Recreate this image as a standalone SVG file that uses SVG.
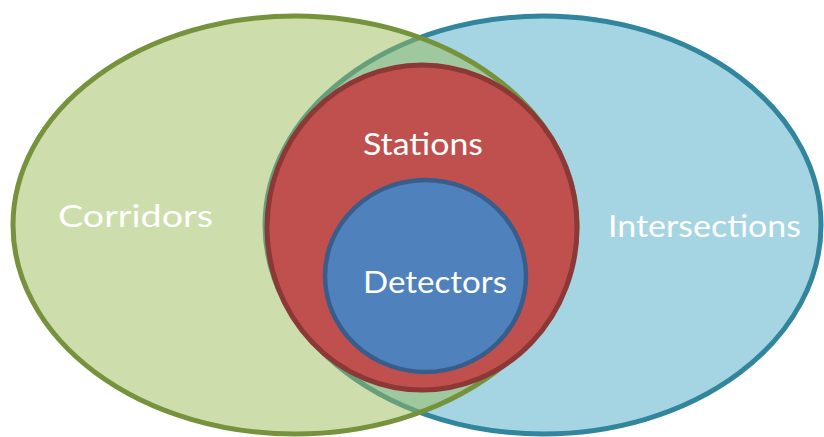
<svg xmlns="http://www.w3.org/2000/svg" width="824" height="437" viewBox="0 0 824 437">
<style>
.lbl{font-family:Lato,"Open Sans","Liberation Sans",sans-serif;font-size:31px;fill:#ffffff}
</style>
<rect width="824" height="437" fill="#ffffff"/>
<g id="intersections">
<ellipse cx="543" cy="225" rx="278" ry="209" fill="#4BACC6" fill-opacity="0.5" stroke="#31859C" stroke-width="5"/>
<text class="lbl" x="608" y="237" textLength="193" lengthAdjust="spacingAndGlyphs">Intersections</text>
</g>
<g id="corridors">
<ellipse cx="295" cy="225" rx="282" ry="209" fill="#9BBB59" fill-opacity="0.5" stroke="#76923C" stroke-width="5"/>
<text class="lbl" x="58" y="227" textLength="155" lengthAdjust="spacingAndGlyphs">Corridors</text>
</g>
<g id="stations">
<ellipse cx="422" cy="227.5" rx="155" ry="162.5" fill="#C0504D" stroke="#8C3836" stroke-width="5"/>
<text class="lbl" x="363" y="155" textLength="120" lengthAdjust="spacingAndGlyphs">Stations</text>
</g>
<g id="detectors">
<ellipse cx="425.5" cy="276" rx="100.5" ry="96" fill="#4F81BD" stroke="#385D8A" stroke-width="4.5"/>
<text class="lbl" x="363" y="293" textLength="144" lengthAdjust="spacingAndGlyphs">Detectors</text>
</g>
<g id="connectors"/>
</svg>
